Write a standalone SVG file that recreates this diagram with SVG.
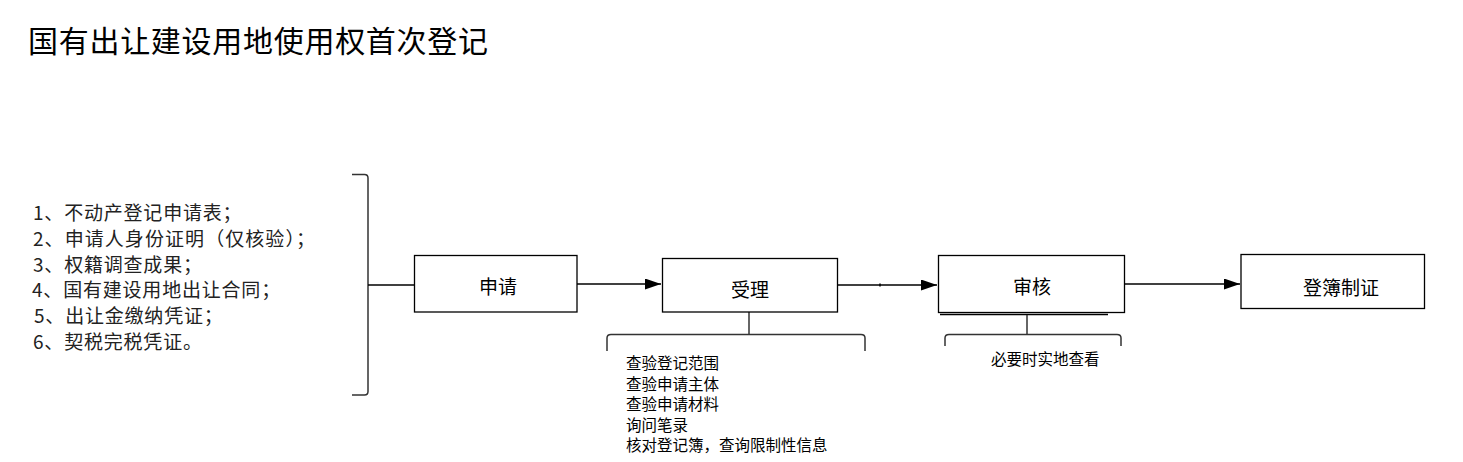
<svg xmlns="http://www.w3.org/2000/svg" width="1463" height="462" viewBox="0 0 1463 462">
<style>
.t{font-family:"Noto Sans CJK SC","Liberation Sans",sans-serif;fill:#000}
.box{fill:#fff;stroke:#000;stroke-width:1.3}
.ln{fill:none;stroke:#000;stroke-width:1.5}
.br{fill:none;stroke:#333;stroke-width:1.5}
.lbl{font-size:19px;text-anchor:middle;dominant-baseline:central}
.lst{font-size:19px;fill:#222;letter-spacing:0.8px}
.sm{font-size:15.5px}
</style>
<defs>
<marker id="ah" viewBox="0 0 16 11" refX="16" refY="5.5" markerWidth="16" markerHeight="11" markerUnits="userSpaceOnUse" orient="auto">
<path d="M0,0 L16,5.5 L0,11 Z" fill="#000"/>
</marker>
</defs>
<rect width="1463" height="462" fill="#fff"/>
<text class="t" x="28" y="52" font-size="30" textLength="460" lengthAdjust="spacing">国有出让建设用地使用权首次登记</text>

<g id="materials">
<text class="t lst" x="33" y="220">1、不动产登记申请表；</text>
<text class="t lst" x="33" y="246" textLength="282" lengthAdjust="spacing" style="letter-spacing:0">2、申请人身份证明（仅核验）；</text>
<text class="t lst" x="33" y="272">3、权籍调查成果；</text>
<text class="t lst" x="32" y="297">4、国有建设用地出让合同；</text>
<text class="t lst" x="34" y="323">5、出让金缴纳凭证；</text>
<text class="t lst" x="33" y="349">6、契税完税凭证。</text>
</g>

<g id="connectors">
<path class="br" d="M352,174.5 H364.5 Q368,174.5 368,178 V391.5 Q368,395 364.5,395 H352"/>
<path class="ln" d="M368,285 H414"/>
<path class="ln" d="M577,284 H661" marker-end="url(#ah)"/>
<path class="ln" d="M837,285 H937" marker-end="url(#ah)"/>
<path class="ln" d="M880,283.5 V286.5"/>
<path class="ln" d="M1124,284 H1240" marker-end="url(#ah)"/>
<path class="br" d="M749,312 V334"/>
<path class="br" d="M607,351 V338 Q607,334.5 611,334.5 H861 Q865,334.5 865,338 V351"/>
<path class="ln" d="M940,314.5 H1108" stroke-width="1.2"/>
<path class="br" d="M1027,315 V334"/>
<path class="br" d="M945,346 V338 Q945,334.5 949,334.5 H1117 Q1121,334.5 1121,338 V346"/>
</g>

<g id="node-apply">
<rect class="box" x="414.5" y="255.5" width="162.5" height="56.5"/>
<text class="t lbl" x="498" y="285">申请</text>
</g>
<g id="node-accept">
<rect class="box" x="662.5" y="258.5" width="175" height="53.5"/>
<text class="t lbl" x="750" y="288">受理</text>
</g>
<g id="node-review">
<rect class="box" x="938.5" y="255.5" width="186" height="57"/>
<text class="t lbl" x="1032" y="285">审核</text>
</g>
<g id="node-register">
<rect class="box" x="1241" y="254.5" width="183.5" height="54"/>
<text class="t lbl" x="1341" y="286">登簿制证</text>
</g>

<g id="accept-notes">
<text class="t sm" x="626" y="369">查验登记范围</text>
<text class="t sm" x="626" y="390">查验申请主体</text>
<text class="t sm" x="626" y="410">查验申请材料</text>
<text class="t sm" x="626" y="431">询问笔录</text>
<text class="t sm" x="626" y="451">核对登记簿，查询限制性信息</text>
</g>
<g id="review-notes">
<text class="t sm" x="991" y="365">必要时实地查看</text>
</g>
</svg>
